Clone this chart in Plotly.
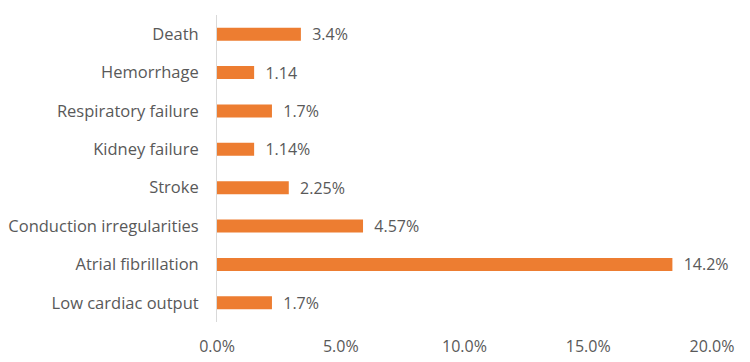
import plotly.graph_objects as go

categories = ["Low cardiac output", "Atrial fibrillation", "Conduction irregularities",
              "Stroke", "Kidney failure", "Respiratory failure", "Hemorrhage", "Death"]
# bar lengths as drawn on the axis (fractions)
bar_values = [0.0222, 0.184, 0.059, 0.029, 0.015, 0.0222, 0.015, 0.0339]
# printed data labels
value_labels = ["1.7%", "14.2%", "4.57%", "2.25%", "1.14%", "1.7%", "1.14", "3.4%"]

FONT = "Open Sans"
GREY = "#595959"

fig = go.Figure(go.Bar(
    y=categories, x=bar_values, orientation="h",
    marker=dict(color="#ED7D31", line=dict(width=0)),
    width=0.34,
    text=["  " + t for t in value_labels],
    textposition="outside",
    constraintext="none",
    textfont=dict(family=FONT, size=16, color=GREY),
    cliponaxis=False,
    hoverinfo="skip",
))

fig.update_layout(
    width=750, height=362,
    margin=dict(l=217, r=38, t=15, b=40),
    paper_bgcolor="white", plot_bgcolor="white",
    showlegend=False,
    font=dict(family=FONT, size=16, color=GREY),
    xaxis=dict(range=[0, 0.2], dtick=0.05, tickformat=".1%", showgrid=False,
               zeroline=False, showline=False, ticks="", ticklabelstandoff=13,
               automargin=False,
               tickfont=dict(family=FONT, size=16, color=GREY), fixedrange=True),
    yaxis=dict(showgrid=False, zeroline=False, showline=True, linecolor="#D9D9D9",
               linewidth=1, ticks="", ticklabelstandoff=14, automargin=False,
               tickfont=dict(family=FONT, size=16.5, color=GREY),
               categoryorder="array", categoryarray=categories, fixedrange=True),
)

fig.write_html("out.html")
